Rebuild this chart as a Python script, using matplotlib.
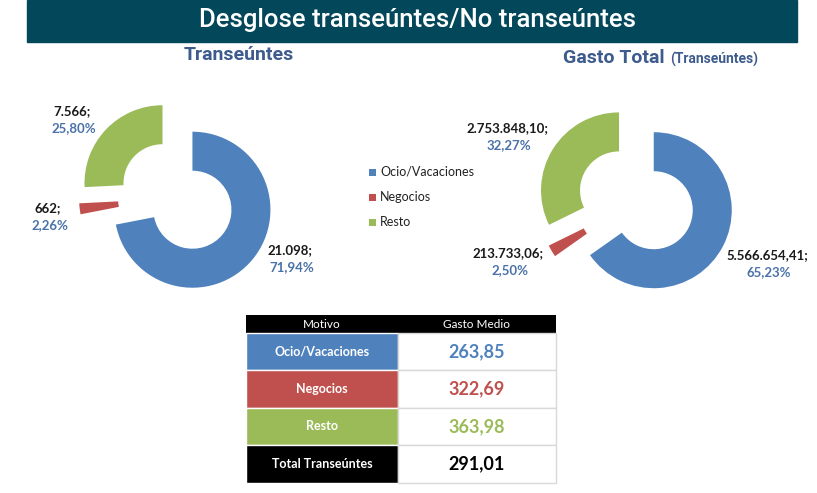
import matplotlib
matplotlib.use("Agg")
import matplotlib.pyplot as plt
from matplotlib.patches import Rectangle

# ---------------- data ----------------
categories = ["Ocio/Vacaciones", "Negocios", "Resto"]
transeuntes = [21098, 662, 7566]
gasto_total = [5566654.41, 213733.06, 2753848.10]
gasto_medio = [263.85, 322.69, 363.98]
gasto_medio_total = 291.01
colors = ["#4f81bd", "#c0504d", "#9bbb59"]

title = "Desglose transeúntes/No transeúntes"
sub_left = "Transeúntes"
sub_right_main = "Gasto Total"
sub_right_small = "(Transeúntes)"
table_header = ["Motivo", "Gasto Medio"]
total_label = "Total Transeúntes"

W, H = 817, 493
FONT = ["Lato", "DejaVu Sans"]
TFONT = ["Roboto", "DejaVu Sans"]
PCT_COLOR = "#4a72a8"
SUB_COLOR = "#3d5b8c"


def es_num(v, dec):
    s = f"{v:,.{dec}f}"
    return s.replace(",", "X").replace(".", ",").replace("X", ".")


fig = plt.figure(figsize=(W / 100, H / 100), dpi=100)
ax = fig.add_axes([0, 0, 1, 1])

# ---------------- donuts ----------------
R = 78
ring = 39
expl = 20


def donut(vals, center):
    ax.pie(vals, colors=colors, startangle=-90, counterclock=True,
           radius=R, center=center, explode=[expl] * len(vals),
           wedgeprops=dict(width=ring, linewidth=0))


donut(transeuntes, (177, 197))
donut(gasto_total, (636, 201))

ax.set_xlim(0, W)
ax.set_ylim(H, 0)
ax.set_aspect("equal")
ax.axis("off")

# title bar
ax.add_patch(Rectangle((27, 0), 770, 42, color="#03475a", zorder=0))
ax.text(418, 20, title, color="white", fontsize=18.5, family=TFONT,
        fontweight="medium", ha="center", va="center")

# subtitles
ax.text(239, 55, sub_left, color=SUB_COLOR, fontsize=14, family=TFONT,
        fontweight="bold", ha="center", va="center")
ax.text(665, 58, sub_right_main, color=SUB_COLOR, fontsize=14, family=TFONT,
        fontweight="bold", ha="right", va="center")
ax.text(670, 59, sub_right_small, color=SUB_COLOR, fontsize=10, family=TFONT,
        fontweight="bold", ha="left", va="center")

# donut labels
tot_l = sum(transeuntes)
tot_r = sum(gasto_total)
left_pos = [(290, 250), (48, 208), (72, 111)]
right_pos = [(767, 255), (508, 253), (507, 128)]
for i in range(3):
    x, y = left_pos[i]
    ax.text(x, y, es_num(transeuntes[i], 0) + ";", fontsize=9.5, family=FONT,
            fontweight="bold", color="#1a1a1a", ha="center", va="center")
    ax.text(x + 2, y + 17, es_num(100 * transeuntes[i] / tot_l, 2) + "%",
            fontsize=9.5, family=FONT, fontweight="bold", color=PCT_COLOR,
            ha="center", va="center")
    x, y = right_pos[i]
    ax.text(x, y, es_num(gasto_total[i], 2) + ";", fontsize=9.5, family=FONT,
            fontweight="bold", color="#1a1a1a", ha="center", va="center")
    ax.text(x + 2, y + 17, es_num(100 * gasto_total[i] / tot_r, 2) + "%",
            fontsize=9.5, family=FONT, fontweight="bold", color=PCT_COLOR,
            ha="center", va="center")

# legend
for i, c in enumerate(categories):
    y = 172 + 25 * i
    ax.add_patch(Rectangle((369, y - 3.5), 7, 7, color=colors[i], linewidth=0))
    ax.text(380, y, c, fontsize=9, family=FONT, color="#222222",
            ha="left", va="center")

# ---------------- table ----------------
x0, xs, x1 = 246, 398, 556
ys = [315, 333, 370, 408, 445, 483]
ax.add_patch(Rectangle((x0, ys[0]), x1 - x0, ys[1] - ys[0], color="black",
                       linewidth=0))
ax.text((x0 + xs) / 2, (ys[0] + ys[1]) / 2, table_header[0], color="white",
        fontsize=8.5, family=FONT, ha="center", va="center")
ax.text((xs + x1) / 2, (ys[0] + ys[1]) / 2, table_header[1], color="white",
        fontsize=8.5, family=FONT, ha="center", va="center")

row_labels = categories + [total_label]
row_vals = gasto_medio + [gasto_medio_total]
row_fill = colors + ["black"]
val_colors = colors + ["black"]
for i in range(4):
    ya, yb = ys[i + 1], ys[i + 2]
    ax.add_patch(Rectangle((x0, ya), xs - x0, yb - ya, facecolor=row_fill[i],
                           edgecolor="white", linewidth=1))
    ax.add_patch(Rectangle((xs, ya), x1 - xs, yb - ya, facecolor="white",
                           edgecolor="#d9d9d9", linewidth=1))
    ax.text((x0 + xs) / 2, (ya + yb) / 2, row_labels[i], color="white",
            fontsize=9, family=FONT, fontweight="bold", ha="center",
            va="center")
    ax.text((xs + x1) / 2, (ya + yb) / 2, es_num(row_vals[i], 2),
            color=val_colors[i], fontsize=13, family=FONT,
            fontweight="bold", ha="center", va="center")

fig.savefig("out.png", dpi=100)
